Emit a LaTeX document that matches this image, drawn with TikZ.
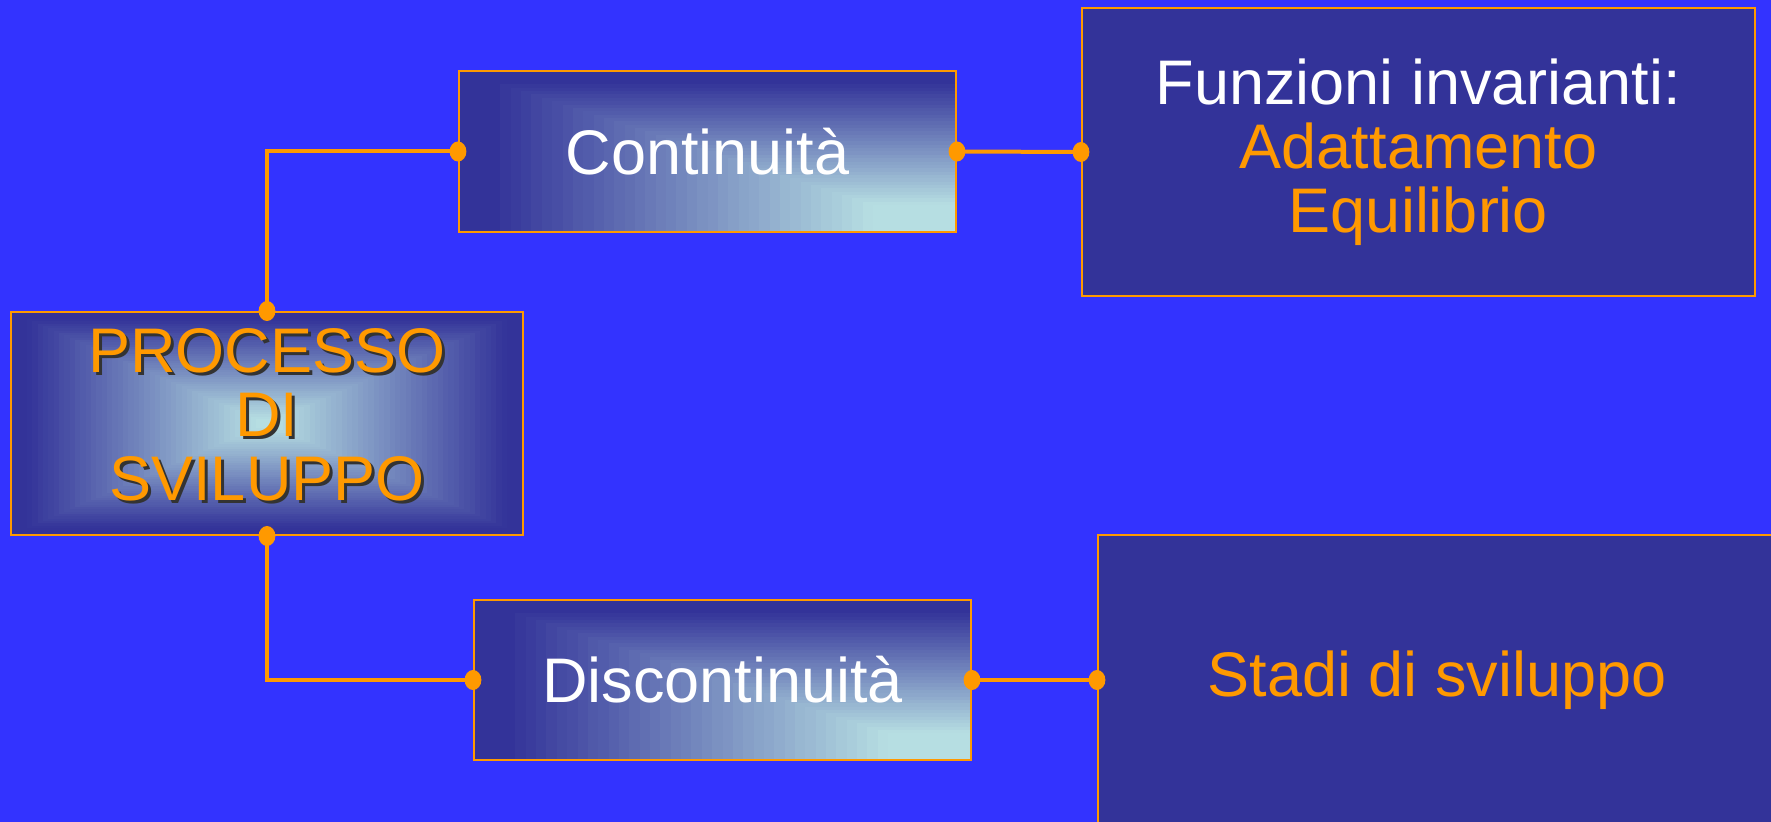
\documentclass[tikz,border=0pt]{standalone}
\usepackage{fontspec}
\setmainfont{Liberation Sans}
\usetikzlibrary{calc}
\definecolor{bgc}{HTML}{3333FF}
\definecolor{darkc}{HTML}{333399}
\definecolor{lightc}{HTML}{B6DEE2}
\definecolor{orc}{HTML}{FF9900}
\tikzset{
  boxbase/.style={draw=orc, line width=1pt, rectangle, inner sep=0pt, align=center,
    font=\fontsize{31.5}{32}\selectfont},
  cornergrad/.style={path picture={
    \foreach \i in {0,...,48}{
      \pgfmathsetmacro\f{\i/48}
      \pgfmathtruncatemacro\pc{min(100,max(0,100*(\i/48-0.06)/0.76))}
      \fill[lightc!\pc!darkc] ($(path picture bounding box.north west)!\f!(path picture bounding box.south east)$) rectangle (path picture bounding box.south east);
    }}},
  centergrad/.style={path picture={
    \foreach \i in {0,...,48}{
      \pgfmathsetmacro\f{\i/96}
      \pgfmathtruncatemacro\pc{min(100,max(0,100*(\i/48-0.05)/0.9))}
      \fill[lightc!\pc!darkc] ($(path picture bounding box.north west)!\f!(path picture bounding box.south east)$) rectangle ($(path picture bounding box.south east)!\f!(path picture bounding box.north west)$);
    }}},
  flatbox/.style={boxbase, fill=darkc},
  conn/.style={draw=orc, line width=2pt},
  dotc/.style={fill=orc},
}
\begin{document}
\begin{tikzpicture}[x=0.5pt,y=-0.5pt]
\fill[bgc] (0,0) rectangle (1771,822);
\useasboundingbox (0,0) rectangle (1771,822);
% boxes
\node[boxbase, centergrad, minimum width=256pt, minimum height=111.5pt] (proc) at (267,423.5) {};
\node[boxbase, cornergrad, minimum width=248.5pt, minimum height=80.5pt, text=white] (cont) at (707.5,151.5) {Continuità};
\node[boxbase, cornergrad, minimum width=248.5pt, minimum height=80pt, text=white] (disc) at (722.5,680) {Discontinuità};
\node[flatbox, minimum width=336.5pt, minimum height=144pt, text=white] (funz) at (1418.5,152) {Funzioni invarianti:\\\textcolor{orc}{Adattamento}\\\textcolor{orc}{Equilibrio}};
\node[flatbox, minimum width=339pt, minimum height=145pt, text=orc] (stadi) at (1437,680) {Stadi di sviluppo};
% processo text with shadow
\node[align=center, font=\fontsize{31.5}{32}\selectfont, text=black!80, inner sep=0pt] (procshadow) at ($(proc.center)+(3,-6)$) {PROCESSO\\DI\\SVILUPPO};
\node[align=center, font=\fontsize{31.5}{32}\selectfont, text=orc, inner sep=0pt] (proctext) at ($(proc.center)+(0,-9)$) {PROCESSO\\DI\\SVILUPPO};
% connectors
\draw[conn] (proc.north) |- (cont.west);
\draw[conn] (proc.south) |- (disc.west);
\draw[conn] (cont.east) -- (funz.west);
\draw[conn] (disc.east) -- (stadi.west);
% dots
\foreach \a in {proc.north, proc.south, cont.west, cont.east, funz.west, disc.west, disc.east, stadi.west}{
  \fill[dotc] (\a) ellipse [x radius=4.2pt, y radius=5pt];
}
\end{tikzpicture}
\end{document}
